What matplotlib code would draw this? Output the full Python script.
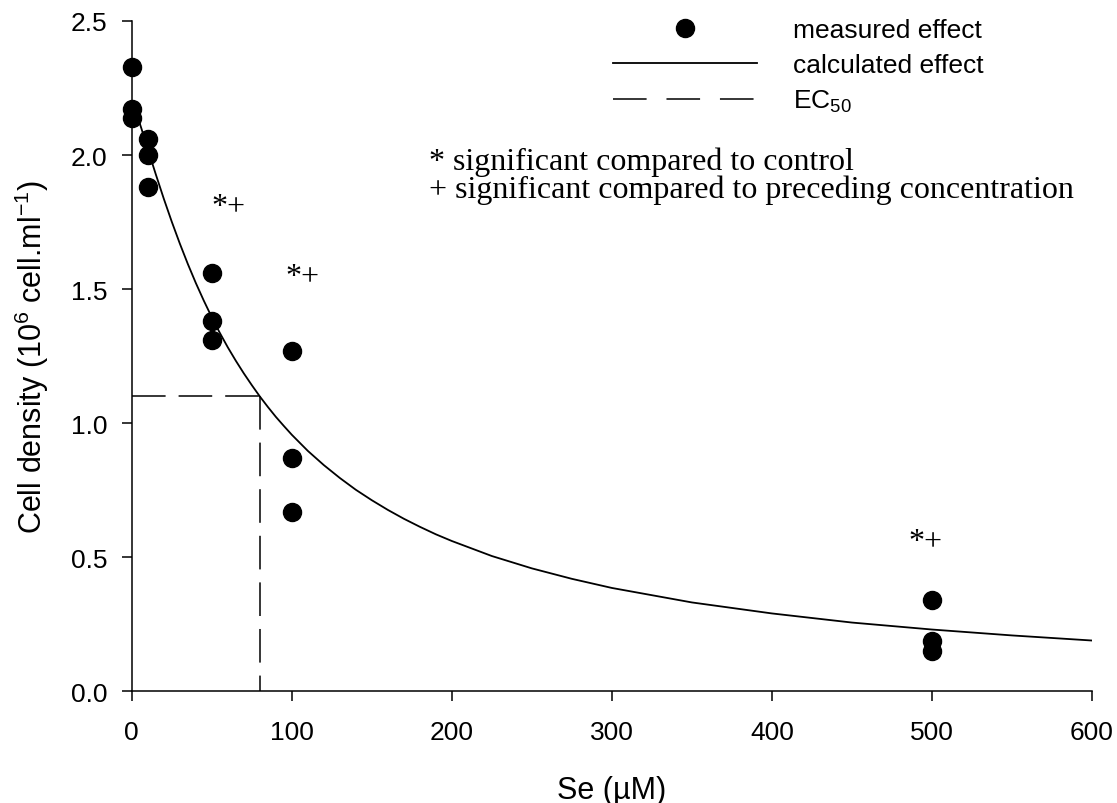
"""
Se dose-response: cell density vs Se concentration with fitted curve and EC50.
"""

import matplotlib
matplotlib.use("Agg")
import matplotlib.pyplot as plt
from matplotlib.lines import Line2D

# measured effect (3 replicates per concentration)
se_conc = [0, 0, 0, 10, 10, 10, 50, 50, 50, 100, 100, 100, 500, 500, 500]
density = [2.33, 2.17, 2.14, 2.06, 2.00, 1.88, 1.56, 1.38, 1.31,
           1.27, 0.87, 0.67, 0.34, 0.19, 0.15]

# calculated effect
curve_x = [0, 2, 4, 6, 8, 10, 15, 20, 25, 30, 35, 40, 45, 50, 55, 60, 65,
           70, 75, 80, 85, 90, 95, 100, 110, 120, 130, 140, 150, 160, 170,
           180, 190, 200, 225, 250, 275, 300, 350, 400, 450, 500, 550, 600]
curve_y = [2.200, 2.171, 2.136, 2.099, 2.061, 2.022, 1.928, 1.837, 1.751,
           1.670, 1.594, 1.523, 1.457, 1.395, 1.337, 1.283, 1.233, 1.186,
           1.142, 1.100, 1.061, 1.024, 0.990, 0.957, 0.897, 0.844, 0.796,
           0.752, 0.713, 0.677, 0.644, 0.614, 0.586, 0.561, 0.505, 0.459,
           0.420, 0.386, 0.332, 0.291, 0.257, 0.231, 0.209, 0.190]

# EC50
ec50_x = 80
ec50_y = 1.10

# significance marks (x, y of label)
sig_x = [50, 96, 485]
sig_y = [1.81, 1.55, 0.56]

plt.rcParams['font.family'] = ['Liberation Sans', 'DejaVu Sans']
plt.rcParams['mathtext.fontset'] = 'custom'
plt.rcParams['mathtext.rm'] = 'Liberation Sans'
plt.rcParams['mathtext.it'] = 'Liberation Sans:italic'
plt.rcParams['mathtext.bf'] = 'Liberation Sans:bold'

fig = plt.figure(figsize=(11.17, 8.04), dpi=100)
ax = fig.add_axes([0.118, 0.1387, 0.8596, 0.834])

dash = (22, 8.5)

# fitted curve
ax.plot(curve_x, curve_y, color='black', linewidth=1.3)

# EC50 guide lines
ax.plot([0, ec50_x], [ec50_y, ec50_y], color='black', linewidth=1.1,
        dashes=dash)
ax.plot([ec50_x, ec50_x], [ec50_y, 0], color='black', linewidth=1.1,
        dashes=dash)

# measured points
ax.plot(se_conc, density, 'o', color='black', markersize=13, clip_on=False,
        zorder=5)

# significance marks
for x, y in zip(sig_x, sig_y):
    ax.text(x, y, '*+', family='Liberation Serif', fontsize=23,
            ha='left', va='center')

ax.text(186, 1.976, '* significant compared to control',
        family='Liberation Serif', fontsize=23, ha='left', va='center')
ax.text(186, 1.872, '+ significant compared to preceding concentration',
        family='Liberation Serif', fontsize=23, ha='left', va='center')

ax.set_xlim(0, 600)
ax.set_ylim(0, 2.5)
ax.set_xticks([0, 100, 200, 300, 400, 500, 600])
ax.set_yticks([0.0, 0.5, 1.0, 1.5, 2.0, 2.5])
ax.set_yticklabels(['0.0', '0.5', '1.0', '1.5', '2.0', '2.5'])
ax.tick_params(direction='out', length=7.5, width=1.1, labelsize=19)
ax.tick_params(axis='x', pad=13)
ax.tick_params(axis='y', pad=10)

for side in ['top', 'right']:
    ax.spines[side].set_visible(False)
for side in ['left', 'bottom']:
    ax.spines[side].set_linewidth(1.1)

ax.set_xlabel('Se (\u00b5M)', fontsize=22, labelpad=22)
ax.set_ylabel('Cell density (10$^{6}$ cell.ml$^{-1}$)', fontsize=22,
              labelpad=14)

# legend
handles = [
    Line2D([], [], linestyle='none', marker='o', markersize=13, color='black'),
    Line2D([], [], color='black', linewidth=1.3),
    Line2D([], [], color='black', linewidth=1.1, dashes=(22, 13)),
]
labels = ['measured effect', 'calculated effect', 'EC$_{50}$']
fig.legend(handles, labels, loc='upper left',
           bbox_to_anchor=(613 / 1117, 1 - 19 / 804), frameon=False,
           fontsize=19, handlelength=5.45, handletextpad=1.36,
           labelspacing=0.42, borderpad=0, borderaxespad=0, numpoints=1)

fig.savefig('out.png', dpi=100)
